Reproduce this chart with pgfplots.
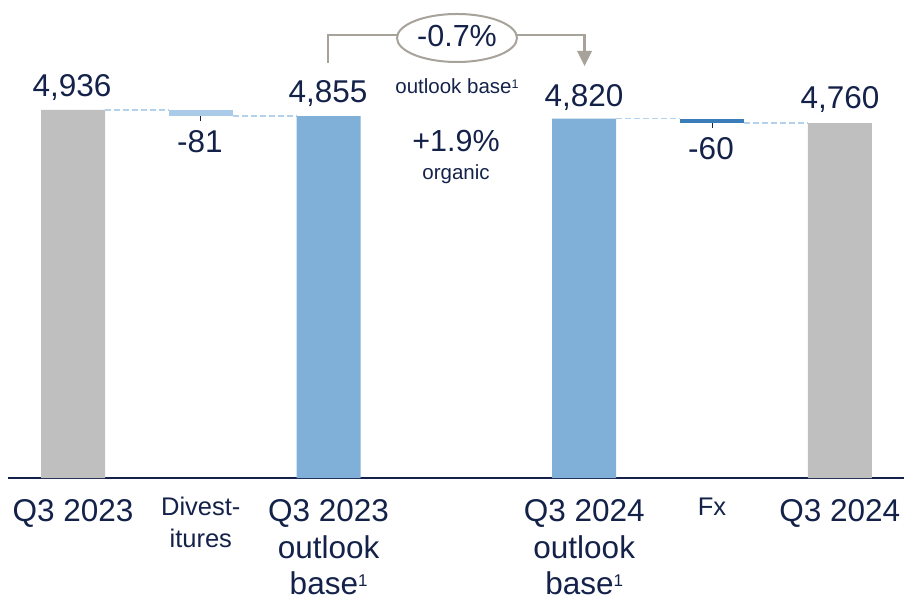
\documentclass[border=0pt]{standalone}
\usepackage{pgfplots}
\pgfplotsset{compat=1.18}
\usepackage{fontspec}
\setmainfont{Liberation Sans}
\definecolor{navy}{HTML}{14224A}
\definecolor{barblue}{HTML}{80B0D8}
\definecolor{bargray}{HTML}{BFBFBF}
\definecolor{divblue}{HTML}{A9CBE7}
\definecolor{fxblue}{HTML}{3B7DB9}
\definecolor{dashblue}{HTML}{B4D2EC}
\definecolor{arrgray}{HTML}{A7A39B}
\newcommand{\supA}{\raisebox{8pt}{\fontsize{17}{17}\selectfont 1}}
\newcommand{\supB}{\raisebox{5pt}{\fontsize{12.5}{12.5}\selectfont 1}}
\begin{document}
\begin{tikzpicture}[x=1pt,y=1pt]
\useasboundingbox (0,0) rectangle (904,600);
\begin{axis}[
  at={(8pt,122pt)}, anchor=south west,
  scale only axis, width=896pt, height=478pt,
  xmin=-0.5086, xmax=6.502, ymin=0, ymax=6411,
  axis x line*=bottom, axis y line=none, ytick=\empty,
  x axis line style={-, draw=navy, line width=2pt},
  ybar stacked, bar width=64pt,
  xtick={0,1,2,4,5,6}, major tick length=0pt,
  xticklabels={
    {\fontsize{31.5}{36.5}\selectfont\begin{tabular}{@{}c@{}}Q3 2023\end{tabular}},
    {\fontsize{25.5}{27}\selectfont\begin{tabular}{@{}c@{}}Divest-\\[5pt]itures\end{tabular}},
    {\fontsize{31.5}{36.5}\selectfont\begin{tabular}{@{}c@{}}Q3 2023\\outlook\\base\supA\end{tabular}},
    {\fontsize{31.5}{36.5}\selectfont\begin{tabular}{@{}c@{}}Q3 2024\\outlook\\base\supA\end{tabular}},
    {\fontsize{25.5}{27}\selectfont\begin{tabular}{@{}c@{}}Fx\end{tabular}},
    {\fontsize{31.5}{36.5}\selectfont\begin{tabular}{@{}c@{}}Q3 2024\end{tabular}}
  },
  xticklabel style={anchor=north, inner sep=0pt, yshift=-18pt, text=navy},
  clip=false,
]
\addplot[fill=none, draw=none] coordinates {(0,0) (1,4855) (2,0) (4,0) (5,4760) (6,0)};
\addplot[fill=bargray, draw=none] coordinates {(0,4936) (1,0) (2,0) (4,0) (5,0) (6,4760)};
\addplot[fill=divblue, draw=none] coordinates {(0,0) (1,81) (2,0) (4,0) (5,0) (6,0)};
\addplot[fill=fxblue, draw=none] coordinates {(0,0) (1,0) (2,0) (4,0) (5,60) (6,0)};
\addplot[fill=barblue, draw=none] coordinates {(0,0) (1,0) (2,4855) (4,4820) (5,0) (6,0)};
\draw[dashblue, line width=1.2pt, dash pattern=on 6pt off 3pt] (axis cs:0.25,4936) -- (axis cs:0.75,4936);
\draw[dashblue, line width=1.2pt, dash pattern=on 6pt off 3pt] (axis cs:1.25,4855) -- (axis cs:1.75,4855);
\draw[dashblue, line width=1.2pt, dash pattern=on 6pt off 3pt] (axis cs:4.25,4820) -- (axis cs:4.75,4820);
\draw[dashblue, line width=1.2pt, dash pattern=on 6pt off 3pt] (axis cs:5.25,4760) -- (axis cs:5.75,4760);
\draw[navy, line width=0.9pt] (axis cs:1,4896) -- (axis cs:1,4788);
\draw[navy, line width=0.9pt] (axis cs:5,4775) -- (axis cs:5,4695);
\end{axis}
% value labels
\begin{scope}[every node/.style={anchor=base, text=navy, font=\fontsize{31.5}{36}\selectfont}]
\node at (72,503) {4,936};
\node at (200,447) {-81};
\node at (328,497) {4,855};
\node at (584,493) {4,820};
\node at (711,440) {-60};
\node at (840,491) {4,760};
\end{scope}
% organic annotation
\draw[arrgray, line width=2.2pt] (328,537) -- (328,565) -- (397,565);
\draw[arrgray, line width=2pt] (457,562) ellipse [x radius=60, y radius=24];
\draw[arrgray, line width=2.2pt] (517,565) -- (584.5,565) -- (584.5,547);
\fill[arrgray] (577,549) -- (592,549) -- (584.5,534) -- cycle;
\node[anchor=base, text=navy, font=\fontsize{30.5}{36}\selectfont] at (457,553) {-0.7\%};
\node[anchor=base, text=navy, font=\fontsize{20.5}{24}\selectfont] at (457,506) {outlook base\supB};
\node[anchor=base, text=navy, font=\fontsize{30.5}{36}\selectfont] at (456,448) {+1.9\%};
\node[anchor=base, text=navy, font=\fontsize{20.5}{24}\selectfont] at (456,420) {organic};
\end{tikzpicture}
\end{document}
